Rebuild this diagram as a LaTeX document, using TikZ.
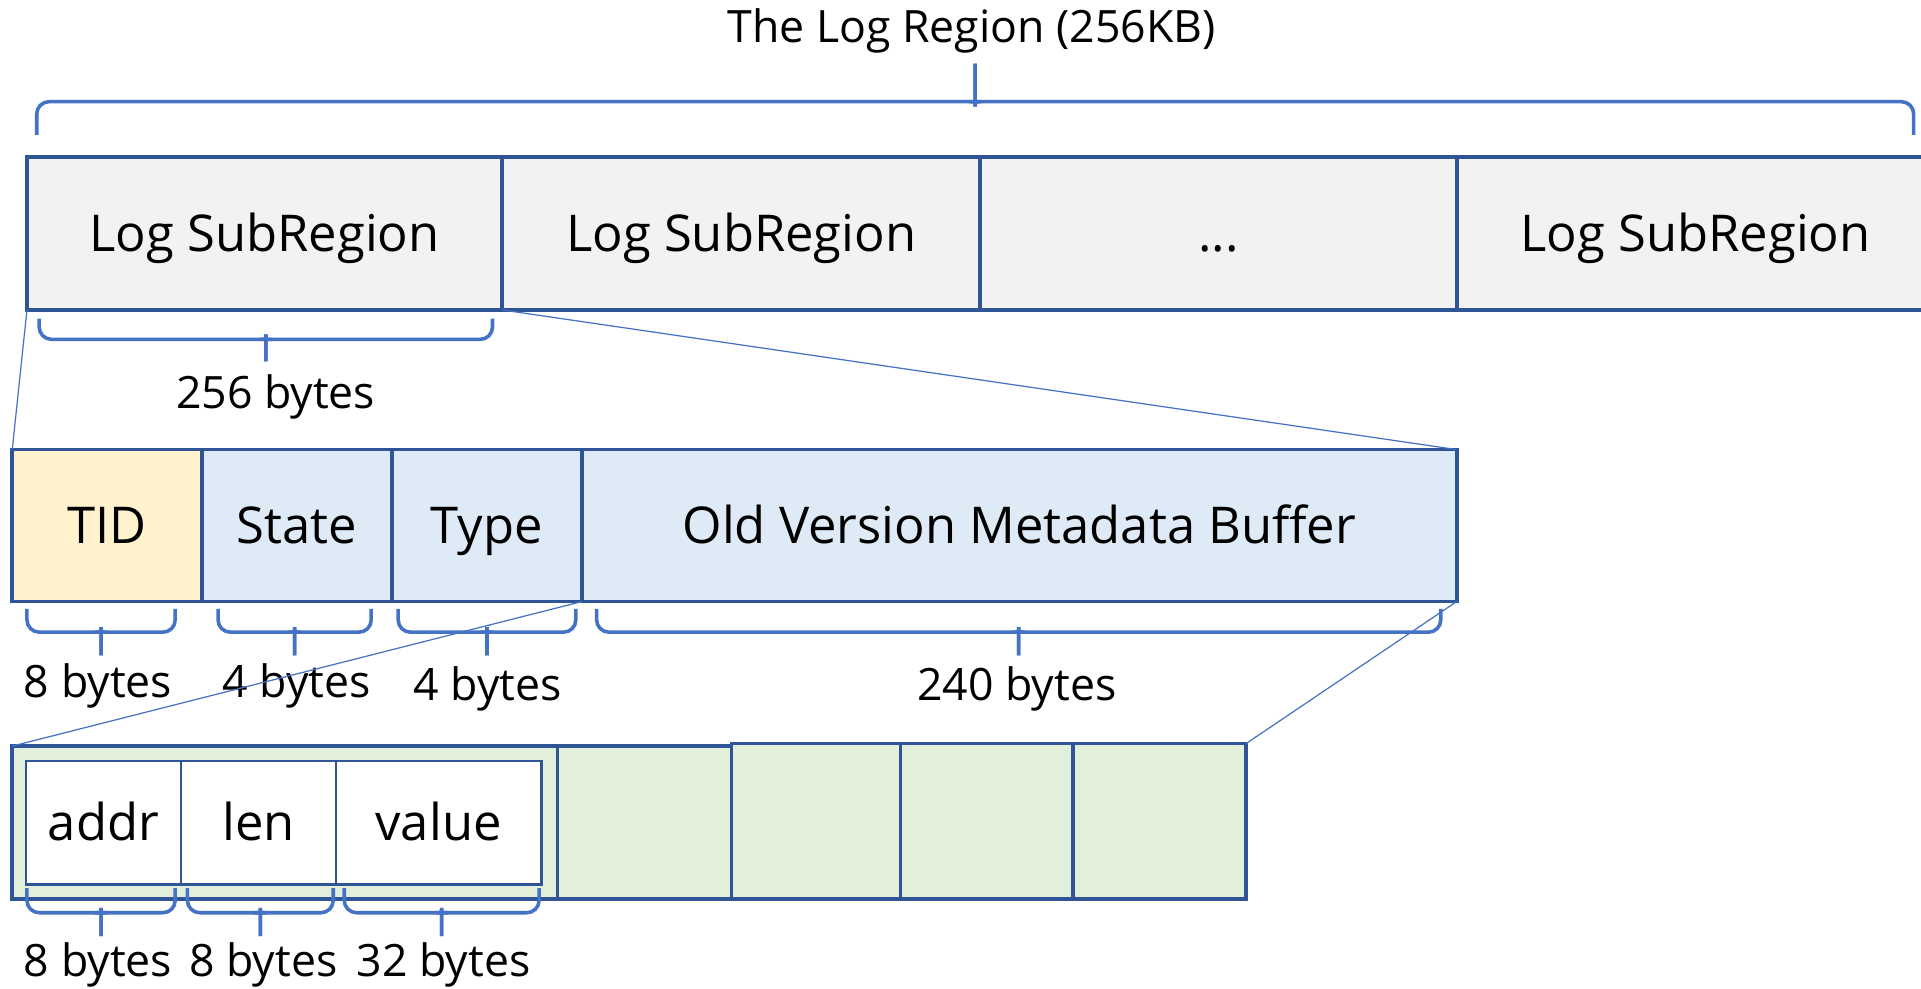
\documentclass[tikz,border=0pt]{standalone}
\usepackage{fontspec}
\setmainfont{Open Sans}
\usetikzlibrary{fit}
\definecolor{edge}{HTML}{2F5597}
\definecolor{accent}{HTML}{4472C4}
\definecolor{grayfill}{HTML}{F2F2F2}
\definecolor{tidfill}{HTML}{FFF2CC}
\definecolor{bluefill}{HTML}{DEEBF7}
\definecolor{greenfill}{HTML}{E2EFDA}

% curly brace: #1,#2 = x of the ends, #3 = y of the ends, #4 = y of the bar, #5 = y of the tip
\newcommand\sizebrace[5]{%
  \pgfmathsetmacro\bxm{(#1+#2)/2}%
  \pgfmathsetmacro\byc{#4+((#5>#4)?6:-6)}%
  \draw[bracestyle,rounded corners=5] (\bxm,#5) -- (\bxm,\byc) .. controls (\bxm,#4) .. (\bxm-5,#4) -- (#1,#4) -- (#1,#3);
  \draw[bracestyle,rounded corners=5] (\bxm,#5) -- (\bxm,\byc) .. controls (\bxm,#4) .. (\bxm+5,#4) -- (#2,#4) -- (#2,#3);
}

\begin{document}
\begin{tikzpicture}[x=0.5pt,y=-0.5pt,
  cell/.style={draw=edge,line width=1.5pt,inner sep=0pt,outer sep=0pt},
  field/.style={draw=edge,line width=0.9pt,fill=white,inner sep=0pt,outer sep=0pt},
  big/.style={font=\fontsize{20.7}{24}\selectfont,text height=14.9pt,text depth=0pt,inner sep=0pt},
  small/.style={font=\fontsize{18.2}{22}\selectfont,text height=13.1pt,text depth=0pt,inner sep=0pt},
  bracestyle/.style={draw=accent,line width=1.45pt},
  zoomline/.style={draw=accent,line width=0.5pt}]
\clip (0,0) rectangle (1568,807);
\fill[white] (0,0) rectangle (1568,807);

% the log region
\node[small] (title) at (793,22) {The Log Region (256KB)};
\sizebrace{30}{1562}{110}{83}{52}

\node[cell,fill=grayfill,fit={(22,128)(410,253)},label={[big]center:Log SubRegion}] (s1) {};
\node[cell,fill=grayfill,fit={(410,128)(800,253)},label={[big]center:Log SubRegion}] (s2) {};
\node[cell,fill=grayfill,fit={(800,128)(1189,253)},label={[big]center:...}] (s3) {};
\node[cell,fill=grayfill,fit={(1189,128)(1580,253)}] (s4) {};
\node[big] (s4text) at (1384,190.5) {Log SubRegion};

\sizebrace{32}{402}{260}{277}{295}
\node[small] (l256) at (225,320) {256 bytes};

% one log subregion
\node[cell,fill=tidfill,fit={(10,367)(165,491)},label={[big]center:TID}] (tid) {};
\node[cell,fill=bluefill,fit={(165,367)(320,491)},label={[big]center:State}] (state) {};
\node[cell,fill=bluefill,fit={(320,367)(475,491)},label={[big]center:Type}] (type) {};
\node[cell,fill=bluefill,fit={(475,367)(1189,491)},label={[big]center:Old Version Metadata Buffer}] (buf) {};

\draw[zoomline] (s1.south west) -- (tid.north west);
\draw[zoomline] (s1.south east) -- (buf.north east);

\sizebrace{22}{143}{497}{516}{535}
\sizebrace{178}{303}{497}{516}{535}
\sizebrace{325}{470}{497}{516}{535}
\sizebrace{487}{1176}{497}{516}{535}
\node[small] (l8) at (80,556) {8 bytes};
\node[small] (l4a) at (242,556) {4 bytes};
\node[small] (l4b) at (398,559) {4 bytes};
\node[small] (l240) at (830,559) {240 bytes};

% metadata buffer entries
\node[cell,fill=greenfill,fit={(10,609)(455,734)}] (e1) {};
\node[cell,fill=greenfill,fit={(455,609)(597,734)}] (e2) {};
\node[cell,fill=greenfill,fit={(597,607)(735,734)}] (e3) {};
\node[cell,fill=greenfill,fit={(735,607)(876,734)}] (e4) {};
\node[cell,fill=greenfill,fit={(876,607)(1017,734)}] (e5) {};

\node[field,fit={(21,621)(148,722)},label={[big]center:addr}] (addr) {};
\node[field,fit={(148,621)(274,722)},label={[big]center:len}] (len) {};
\node[field,fit={(274,621)(442,722)},label={[big]center:value}] (value) {};

\draw[zoomline] (type.south east) -- (e1.north west);
\draw[zoomline] (buf.south east) -- (e5.north east);

\sizebrace{22}{143}{725}{745}{764}
\sizebrace{153}{272}{725}{745}{764}
\sizebrace{281}{440}{725}{745}{764}
\node[small] (la) at (80,784) {8 bytes};
\node[small] (lb) at (215,784) {8 bytes};
\node[small] (lc) at (362,784) {32 bytes};
\end{tikzpicture}
\end{document}
